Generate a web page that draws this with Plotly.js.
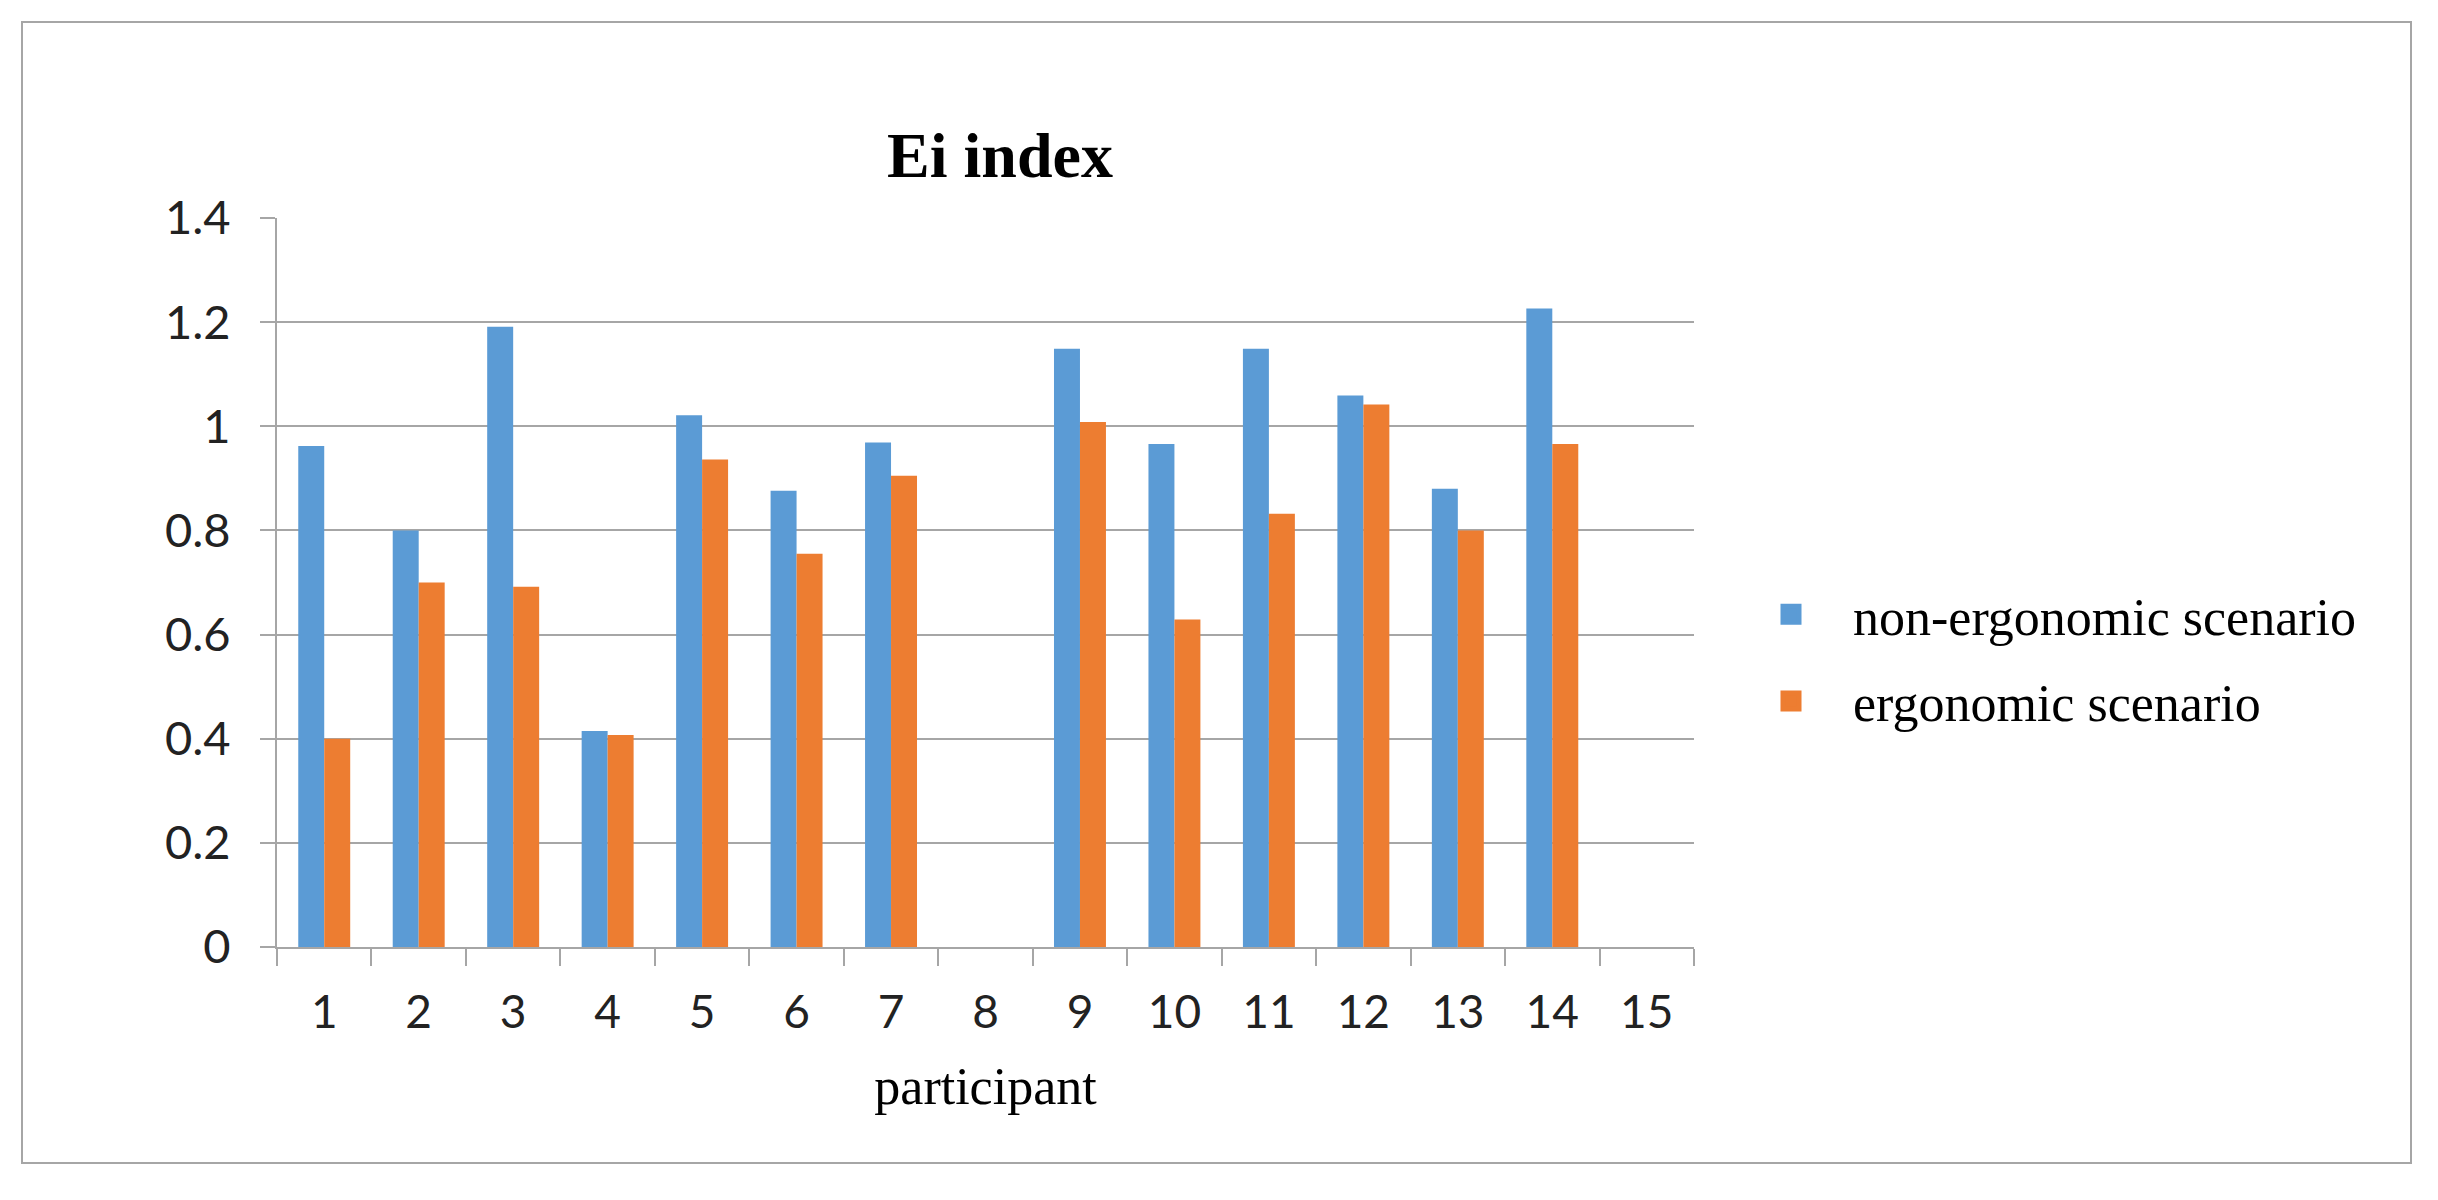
<!DOCTYPE html>
<html>
<head>
<meta charset="utf-8">
<script src="https://cdn.plot.ly/plotly-3.0.1.min.js"></script>
<style>html,body{margin:0;padding:0;background:#fff;}#chart{width:2438px;height:1200px;}</style>
</head>
<body>
<div id="chart"></div>
<script>
const participants = ["1","2","3","4","5","6","7","8","9","10","11","12","13","14","15"];
const nonErgonomic = [0.962,0.80,1.191,0.415,1.021,0.876,0.969,null,1.149,0.966,1.149,1.059,0.880,1.226,null];
const ergonomic = [0.400,0.700,0.692,0.407,0.936,0.755,0.905,null,1.008,0.629,0.832,1.042,0.80,0.966,null];
const yTicks = [0,0.2,0.4,0.6,0.8,1,1.2,1.4];
const yTickLabels = ["0","0.2","0.4","0.6","0.8","1","1.2","1.4"];
const seriesNames = ["non-ergonomic scenario","ergonomic scenario"];
const seriesColors = ["#5B9BD5","#ED7D31"];

const W = 2438, H = 1200;
const m = {l:277, r:W-1694, t:218, b:H-947};
const pw = W-m.l-m.r, ph = H-m.t-m.b;
const px = v => (v-m.l)/pw;
const py = v => (H-m.b-v)/ph;

const seriesValues = [nonErgonomic, ergonomic];
const traces = [];
seriesValues.forEach((vals,i) => {
  traces.push({type:'bar', name:seriesNames[i], x:participants, y:vals,
    marker:{color:seriesColors[i]}, showlegend:false, legendgroup:'g'+i});
});
// legend entries (larger square symbols, no data drawn)
seriesValues.forEach((vals,i) => {
  traces.push({type:'scatter', mode:'markers', name:seriesNames[i], x:[null], y:[null],
    marker:{symbol:'square', size:16, color:seriesColors[i], line:{color:seriesColors[i], width:5}},
    showlegend:true, legendgroup:'g'+i, hoverinfo:'skip'});
});

const layout = {
  width:W, height:H, margin:m,
  paper_bgcolor:'#fff', plot_bgcolor:'#fff',
  barmode:'group', bargap:0.45, bargroupgap:0,
  title:{text:'<b>Ei index</b>', font:{family:'Liberation Serif', size:64, color:'#000'},
         x:1000/W, xanchor:'center', xref:'container', y:1-155/H, yref:'container', yanchor:'middle'},
  xaxis:{type:'category', categoryorder:'array', categoryarray:participants,
         showline:true, linecolor:'#a6a6a6', linewidth:2,
         ticks:'outside', tickson:'boundaries', ticklen:17, tickcolor:'#a6a6a6', tickwidth:2,
         tickfont:{family:'Lato', size:46, color:'#222'}, ticklabelstandoff:24,
         showgrid:false, zeroline:false,
         title:{text:'participant', font:{family:'Liberation Serif', size:52, color:'#000'}, standoff:30}},
  yaxis:{range:[0,1.4], tickvals:yTicks, ticktext:yTickLabels,
         showline:true, linecolor:'#a6a6a6', linewidth:2,
         ticks:'outside', ticklen:15, tickcolor:'#a6a6a6', tickwidth:2,
         showgrid:true, gridcolor:'#a6a6a6', gridwidth:2, zeroline:false,
         tickfont:{family:'Lato', size:47, color:'#222'}, ticklabelstandoff:20},
  showlegend:true,
  legend:{x:px(1729), xanchor:'left', y:py(658), yanchor:'middle',
          font:{family:'Liberation Serif', size:52, color:'#000'},
          itemwidth:114, tracegroupgap:16, bgcolor:'rgba(0,0,0,0)'},
  shapes:[
    {type:'rect', xref:'paper', yref:'paper', x0:px(22), x1:px(2411), y0:py(1163), y1:py(22),
     line:{color:'#a6a6a6', width:2}, fillcolor:'rgba(0,0,0,0)', layer:'below'}
  ]
};

Plotly.newPlot('chart', traces, layout, {displayModeBar:false, staticPlot:true});
</script>
</body>
</html>
